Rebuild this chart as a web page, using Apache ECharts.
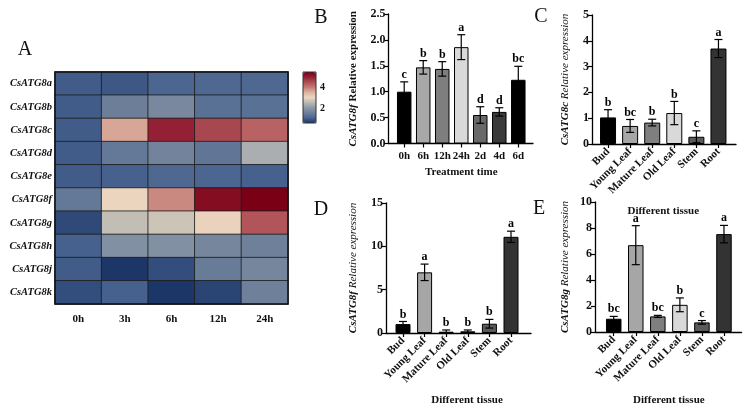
<!DOCTYPE html>
<html>
<head>
<meta charset="utf-8">
<script src="https://cdn.jsdelivr.net/npm/echarts@6/dist/echarts.min.js"></script>
<style>
  html, body { margin: 0; padding: 0; background: #fff; }
  #main { width: 748px; height: 415px; }
</style>
</head>
<body>
<div id="main"></div>
<script>
// ---- heatmap (A) ----
var hours = ['0h', '3h', '6h', '12h', '24h'];
var genes = ['CsATG8a', 'CsATG8b', 'CsATG8c', 'CsATG8d', 'CsATG8e',
             'CsATG8f', 'CsATG8g', 'CsATG8h', 'CsATG8j', 'CsATG8k'];
var heatRows = [
  [1.0, 0.95, 1.1, 1.15, 1.15],
  [1.0, 1.55, 1.75, 1.3, 1.3],
  [1.0, 3.65, 5.0, 4.6, 4.3],
  [1.0, 1.45, 1.65, 1.4, 2.4],
  [1.0, 1.05, 1.15, 1.1, 1.05],
  [1.45, 3.05, 3.9, 5.3, 5.5],
  [0.8, 2.65, 2.75, 3.1, 4.45],
  [1.05, 1.9, 1.9, 1.7, 1.6],
  [1.0, 0.5, 0.85, 1.5, 1.7],
  [0.85, 1.05, 0.6, 0.75, 1.6]
];
var scaleTicks = [2, 4];

// ---- B: time course ----
var timeCats = ['0h', '6h', '12h', '24h', '2d', '4d', '6d'];
var bMeans = [1.0, 1.47, 1.44, 1.86, 0.55, 0.61, 1.23];
var bErrs  = [0.19, 0.13, 0.14, 0.24, 0.16, 0.08, 0.26];
var bTags  = ['c', 'b', 'b', 'a', 'd', 'd', 'bc'];

// ---- C, D, E: tissues ----
var tissues = ['Bud', 'Young Leaf', 'Mature Leaf', 'Old Leaf', 'Stem', 'Root'];
var cMeans = [1.03, 0.70, 0.83, 1.20, 0.28, 3.70];
var cErrs  = [0.30, 0.25, 0.13, 0.45, 0.23, 0.35];
var cTags  = ['b', 'bc', 'b', 'b', 'c', 'a'];
var dMeans = [1.03, 7.0, 0.15, 0.2, 1.07, 11.1];
var dErrs  = [0.30, 0.95, 0.2, 0.15, 0.5, 0.65];
var dTags  = ['b', 'a', 'b', 'b', 'b', 'a'];
var eMeans = [1.02, 6.68, 1.2, 2.09, 0.74, 7.53];
var eErrs  = [0.18, 1.5, 0.08, 0.53, 0.14, 0.67];
var eTags  = ['bc', 'a', 'bc', 'b', 'c', 'a'];

var timeColors = ['#000000', '#a8a8a8', '#7e7e7e', '#d9d9d9', '#696969', '#3a3a3a', '#000000'];
var tissueColors = ['#000000', '#a6a6a6', '#7f7f7f', '#d9d9d9', '#5a5a5a', '#333333'];

var FONT = '"Liberation Serif", "DejaVu Serif", serif';
var chart = echarts.init(document.getElementById('main'));

var grids = [], xAxes = [], yAxes = [], series = [];

//============ heatmap grid (0) + colour bar grid (1) ============
grids.push({ left: 55, top: 72, width: 233, height: 232, show: true, borderColor: '#111', borderWidth: 1.5, z: 5, backgroundColor: 'transparent' });
xAxes.push({
  gridIndex: 0, type: 'category', data: hours,
  axisLine: { show: false }, axisTick: { show: false },
  axisLabel: { margin: 10, fontFamily: FONT, fontWeight: 'bold', fontSize: 11, color: '#111' }
});
yAxes.push({
  gridIndex: 0, type: 'category', data: genes, inverse: true,
  axisLine: { show: false }, axisTick: { show: false },
  axisLabel: { margin: 3, fontFamily: FONT, fontWeight: 'bold', fontStyle: 'italic', fontSize: 10.5, color: '#111' }
});
var heatData = [];
heatRows.forEach(function (row, r) {
  row.forEach(function (v, c) { heatData.push([c, r, v]); });
});
series.push({
  type: 'heatmap', xAxisIndex: 0, yAxisIndex: 0, data: heatData,
  itemStyle: { borderColor: '#1a1a1a', borderWidth: 0.8 }
});

grids.push({ left: 303, top: 72, width: 13, height: 51, show: true, borderColor: '#333', borderWidth: 1, z: 5, backgroundColor: 'transparent' });
xAxes.push({ gridIndex: 1, type: 'value', show: false });
yAxes.push({
  gridIndex: 1, type: 'value', min: 0.6, max: 5.5, position: 'right',
  axisLine: { show: false }, splitLine: { show: false },
  axisTick: { show: true, length: 3, customValues: scaleTicks, lineStyle: { color: '#111' } },
  axisLabel: { margin: 4, customValues: scaleTicks, fontFamily: FONT, fontWeight: 'bold', fontSize: 10, color: '#111' }
});

//============ bar panels ============
function errRender(tags) {
  return function (params, api) {
    var i = api.value(0), m = api.value(1), e = api.value(2);
    var hi = api.coord([i, m + e]);
    var lo = api.coord([i, Math.max(0, m - e)]);
    var w = 4;
    var ls = { stroke: '#000', lineWidth: 1.2 };
    return {
      type: 'group',
      children: [
        { type: 'line', shape: { x1: hi[0], y1: hi[1], x2: lo[0], y2: lo[1] }, style: ls },
        { type: 'line', shape: { x1: hi[0] - w, y1: hi[1], x2: hi[0] + w, y2: hi[1] }, style: ls },
        { type: 'line', shape: { x1: lo[0] - w, y1: lo[1], x2: lo[0] + w, y2: lo[1] }, style: ls },
        { type: 'text', style: {
            text: tags[params.dataIndex], x: hi[0], y: hi[1] - 1,
            textAlign: 'center', textVerticalAlign: 'bottom',
            font: 'bold 12px ' + FONT, fill: '#000' } }
      ]
    };
  };
}

function addPanel(p) {
  var gOut = grids.length, gIn = gOut + 1;
  grids.push({ left: p.axisX, top: p.top, width: p.axisEnd - p.axisX, height: p.bottom - p.top });
  grids.push({ left: p.bandL, top: p.top, width: p.bandR - p.bandL, height: p.bottom - p.top });
  // outer: axis lines + y labels
  xAxes.push({
    gridIndex: gOut, type: 'value', min: 0, max: 1,
    axisLine: { show: true, lineStyle: { color: '#000', width: 1.3 } },
    axisTick: { show: false }, axisLabel: { show: false }, splitLine: { show: false }
  });
  yAxes.push({
    gridIndex: gOut, type: 'value', min: 0, max: p.max, interval: p.step,
    name: p.yName, nameLocation: 'middle', nameGap: p.nameGap,
    nameTextStyle: { fontFamily: FONT, fontSize: 11, color: '#111', rich: {
      g: { fontFamily: FONT, fontSize: 11, fontStyle: 'italic', fontWeight: 'bold', color: '#111' },
      r: { fontFamily: FONT, fontSize: 11, fontStyle: p.restItalic ? 'italic' : 'normal', fontWeight: p.restItalic ? 'normal' : 'bold', color: '#111' }
    } },
    axisLine: { show: true, lineStyle: { color: '#000', width: 1.3 } },
    axisTick: { show: true, length: 4, lineStyle: { color: '#000', width: 1.2 } },
    splitLine: { show: false },
    axisLabel: { margin: 3, fontFamily: FONT, fontWeight: 'bold', fontSize: 12, color: '#111',
      formatter: function (v) { return p.fixed ? v.toFixed(p.fixed) : String(v); } }
  });
  // inner: categories + bars
  xAxes.push({
    gridIndex: gIn, type: 'category', data: p.cats,
    name: p.xName, nameLocation: 'middle', nameGap: p.xNameGap,
    nameTextStyle: { fontFamily: FONT, fontWeight: 'bold', fontSize: 11, color: '#111', padding: p.xNamePad || 0 },
    axisLine: { show: false },
    axisTick: { show: true, alignWithLabel: true, length: 4, lineStyle: { color: '#000', width: 1.2 } },
    axisLabel: { interval: 0, rotate: p.rotate, margin: p.labelMargin, fontFamily: FONT, fontWeight: 'bold', fontSize: 11, color: '#111' }
  });
  yAxes.push({ gridIndex: gIn, type: 'value', min: 0, max: p.max, show: false });

  series.push({
    type: 'bar', xAxisIndex: gIn, yAxisIndex: gIn, barWidth: p.barWidth,
    data: p.means.map(function (v, i) {
      return { value: v, itemStyle: { color: p.colors[i] } };
    }),
    itemStyle: { borderColor: '#000', borderWidth: 1 }
  });
  series.push({
    type: 'custom', xAxisIndex: gIn, yAxisIndex: gIn, z: 5,
    renderItem: errRender(p.tags),
    data: p.means.map(function (v, i) { return [i, v, p.errs[i]]; })
  });
}

addPanel({ axisX: 388.5, axisEnd: 533, bandL: 394.7, bandR: 527.8, top: 14, bottom: 143.5,
  max: 2.5, step: 0.5, fixed: 1, cats: timeCats, means: bMeans, errs: bErrs, tags: bTags, colors: timeColors,
  barWidth: 14.5, rotate: 0, labelMargin: 7, xName: 'Treatment time', xNameGap: 23,
  yName: '{g|CsATG8f} {r|Relative expression}', nameGap: 30, restItalic: false });
addPanel({ axisX: 592, axisEnd: 736, bandL: 597, bandR: 729.5, top: 15, bottom: 144,
  max: 5, step: 1, cats: tissues, means: cMeans, errs: cErrs, tags: cTags, colors: tissueColors,
  barWidth: 16, rotate: 45, labelMargin: 6, xName: 'Different tissue', xNameGap: 62,
  yName: '{g|CsATG8c} {r|Relative expression}', nameGap: 21, restItalic: true });
addPanel({ axisX: 386, axisEnd: 531, bandL: 392.2, bandR: 521.8, top: 203, bottom: 333,
  max: 15, step: 5, cats: tissues, means: dMeans, errs: dErrs, tags: dTags, colors: tissueColors,
  barWidth: 15, rotate: 45, labelMargin: 6, xName: 'Different tissue', xNameGap: 62, xNamePad: [0, 0, 0, 20],
  yName: '{g|CsATG8f} {r|Relative expression}', nameGap: 27, restItalic: true });
addPanel({ axisX: 595, axisEnd: 741.5, bandL: 602.7, bandR: 735, top: 202, bottom: 332,
  max: 10, step: 2, cats: tissues, means: eMeans, errs: eErrs, tags: eTags, colors: tissueColors,
  barWidth: 15.5, rotate: 45, labelMargin: 6, xName: 'Different tissue', xNameGap: 63,
  yName: '{g|CsATG8g} {r|Relative expression}', nameGap: 24, restItalic: true });

var letterFont = 'normal 20px ' + FONT;
function panelLetter(t, x, y) {
  return { type: 'text', x: x, y: y, style: { text: t, font: letterFont, fill: '#111', textAlign: 'center', textVerticalAlign: 'middle' } };
}

var option = {
  backgroundColor: '#fff',
  animation: false,
  grid: grids,
  xAxis: xAxes,
  yAxis: yAxes,
  visualMap: {
    type: 'continuous', seriesIndex: 0, min: 0.6, max: 5.5,
    calculable: false, showLabel: false, text: null,
    left: 303, top: 72, itemWidth: 13, itemHeight: 51, padding: 0,
    inRange: { color: ['#1c3668', '#4a6590', '#6e8099', '#8d98a8', '#b9b9b4', '#ecd5bf',
                       '#dcb3a0', '#c47a74', '#ae4f56', '#921f33', '#7a0015'] }
  },
  graphic: [
    panelLetter('A', 25, 50),
    panelLetter('B', 321, 18),
    panelLetter('C', 541, 17),
    panelLetter('D', 321, 210),
    panelLetter('E', 539, 209)
  ],
  series: series
};
chart.setOption(option);
</script>
</body>
</html>
